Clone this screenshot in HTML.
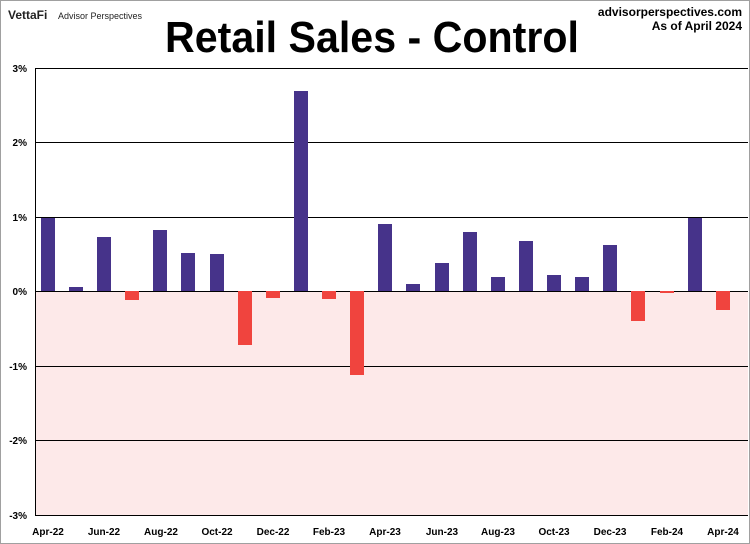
<!DOCTYPE html>
<html><head><meta charset="utf-8"><style>
html,body{margin:0;padding:0;background:#fff;}
svg{display:block;}
</style></head><body>
<svg width="750" height="544" xmlns="http://www.w3.org/2000/svg" font-family="'Liberation Sans', sans-serif">
<rect x="0.5" y="0.5" width="749" height="543" fill="#fff" stroke="#a0a0a0"/>
<text x="8" y="19" font-size="12" font-weight="bold" fill="#222">VettaFi</text>
<text x="58" y="19" font-size="9" fill="#222">Advisor Perspectives</text>
<text x="742" y="16" font-size="12" font-weight="bold" text-anchor="end" fill="#000">advisorperspectives.com</text>
<text x="742" y="30" font-size="12" font-weight="bold" text-anchor="end" fill="#000">As of April 2024</text>
<text x="372" y="52" font-size="44" font-weight="bold" text-anchor="middle" textLength="414" lengthAdjust="spacingAndGlyphs" fill="#000">Retail Sales - Control</text>
<rect x="35" y="291" width="713" height="224" fill="#fde9e9"/>
<g stroke="#000" stroke-width="1">
<line x1="35" y1="68.5" x2="748" y2="68.5"/>
<line x1="35" y1="142.5" x2="748" y2="142.5"/>
<line x1="35" y1="217.5" x2="748" y2="217.5"/>
<line x1="35" y1="291.5" x2="748" y2="291.5"/>
<line x1="35" y1="366.5" x2="748" y2="366.5"/>
<line x1="35" y1="440.5" x2="748" y2="440.5"/>
<line x1="35" y1="515.5" x2="748" y2="515.5"/>
<line x1="35.5" y1="68" x2="35.5" y2="515"/>
</g>
<g font-size="10" font-weight="bold" text-anchor="end" fill="#000">
<text x="27" y="72">3%</text><text x="27" y="146">2%</text><text x="27" y="221">1%</text>
<text x="27" y="295">0%</text><text x="27" y="370">-1%</text><text x="27" y="444">-2%</text><text x="27" y="519">-3%</text>
</g>
<g id="bars"></g>
<g font-size="10" font-weight="bold" text-anchor="middle" fill="#000">
<text x="48" y="535">Apr-22</text><text x="104" y="535">Jun-22</text><text x="161" y="535">Aug-22</text>
<text x="217" y="535">Oct-22</text><text x="273" y="535">Dec-22</text><text x="329" y="535">Feb-23</text>
<text x="385" y="535">Apr-23</text><text x="442" y="535">Jun-23</text><text x="498" y="535">Aug-23</text>
<text x="554" y="535">Oct-23</text><text x="610" y="535">Dec-23</text><text x="667" y="535">Feb-24</text>
<text x="723" y="535">Apr-24</text>
</g>
<g>
<rect x="41" y="218" width="14" height="73" fill="#46338a"/>
<rect x="69" y="287" width="14" height="4" fill="#46338a"/>
<rect x="97" y="237" width="14" height="54" fill="#46338a"/>
<rect x="125" y="291" width="14" height="9" fill="#f0443e"/>
<rect x="153" y="230" width="14" height="61" fill="#46338a"/>
<rect x="181" y="253" width="14" height="38" fill="#46338a"/>
<rect x="210" y="254" width="14" height="37" fill="#46338a"/>
<rect x="238" y="291" width="14" height="54" fill="#f0443e"/>
<rect x="266" y="291" width="14" height="7" fill="#f0443e"/>
<rect x="294" y="91" width="14" height="200" fill="#46338a"/>
<rect x="322" y="291" width="14" height="8" fill="#f0443e"/>
<rect x="350" y="291" width="14" height="84" fill="#f0443e"/>
<rect x="378" y="224" width="14" height="67" fill="#46338a"/>
<rect x="406" y="284" width="14" height="7" fill="#46338a"/>
<rect x="435" y="263" width="14" height="28" fill="#46338a"/>
<rect x="463" y="232" width="14" height="59" fill="#46338a"/>
<rect x="491" y="277" width="14" height="14" fill="#46338a"/>
<rect x="519" y="241" width="14" height="50" fill="#46338a"/>
<rect x="547" y="275" width="14" height="16" fill="#46338a"/>
<rect x="575" y="277" width="14" height="14" fill="#46338a"/>
<rect x="603" y="245" width="14" height="46" fill="#46338a"/>
<rect x="631" y="291" width="14" height="30" fill="#f0443e"/>
<rect x="660" y="291" width="14" height="2" fill="#f0443e"/>
<rect x="688" y="218" width="14" height="73" fill="#46338a"/>
<rect x="716" y="291" width="14" height="19" fill="#f0443e"/>
</g>
</svg>
</body></html>
